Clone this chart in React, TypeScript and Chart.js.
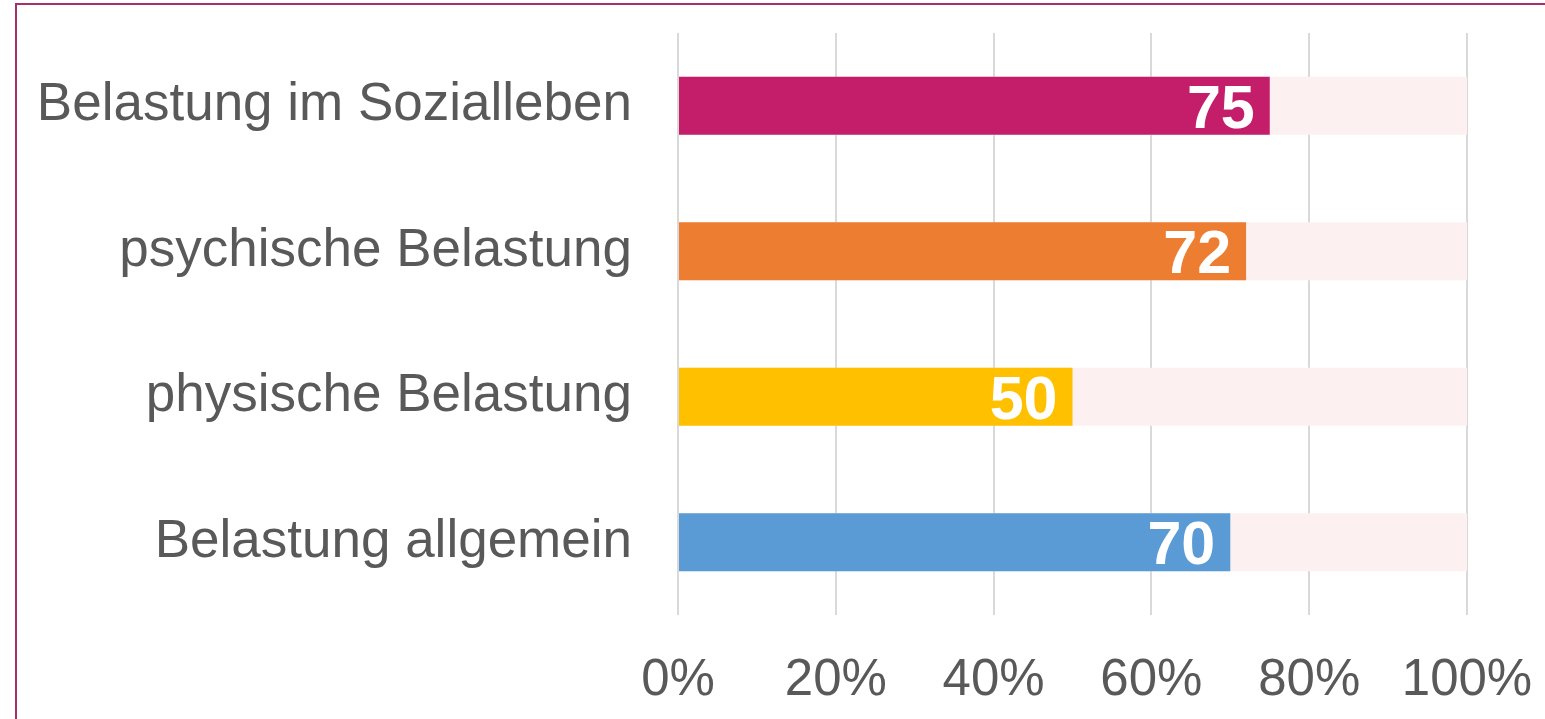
import React, { useEffect, useRef } from "react";
import { Chart, registerables } from "chart.js";

Chart.register(...registerables);

const categories = [
  "Belastung im Sozialleben",
  "psychische Belastung",
  "physische Belastung",
  "Belastung allgemein",
];
const values = [75, 72, 50, 70];
const totals = [100, 100, 100, 100];
const barColors = ["#C41E6A", "#ED7D31", "#FFC000", "#5B9BD5"];
const xTicks = [0, 20, 40, 60, 80, 100];

const valueLabelPlugin = {
  id: "valueLabels",
  afterDatasetsDraw(chart: any) {
    const ctx = chart.ctx;
    const meta = chart.getDatasetMeta(0);
    ctx.save();
    ctx.fillStyle = "#FFFFFF";
    const size = 61;
    ctx.font = `bold ${size}px "Liberation Sans", Arial, sans-serif`;
    ctx.textAlign = "right";
    ctx.textBaseline = "alphabetic";
    meta.data.forEach((bar: any, i: number) => {
      ctx.fillText(String(values[i]), bar.x - 15, bar.y + (size * 0.716) / 2);
    });
    ctx.restore();
  },
};

export default function App() {
  const ref = useRef<HTMLCanvasElement>(null);
  useEffect(() => {
    if (!ref.current) return;
    const chart = new Chart(ref.current, {
      type: "bar",
      data: {
        labels: categories,
        datasets: [
          {
            data: values,
            backgroundColor: barColors,
            barPercentage: 0.4,
            categoryPercentage: 1,
            grouped: false,
            order: 1,
          },
          {
            data: totals,
            backgroundColor: "#FDF0F0",
            barPercentage: 0.4,
            categoryPercentage: 1,
            grouped: false,
            order: 2,
          },
        ],
      },
      options: {
        indexAxis: "y",
        responsive: false,
        animation: false,
        layout: { padding: { top: 33, right: 78, left: 0, bottom: 0 } },
        plugins: { legend: { display: false }, tooltip: { enabled: false } },
        scales: {
          x: {
            min: 0,
            max: 100,
            afterBuildTicks: (scale: any) => {
              scale.ticks = xTicks.map((v) => ({ value: v }));
            },
            afterFit: (scale: any) => {
              scale.paddingLeft = 0;
              scale.paddingRight = 0;
              scale.height = 104;
            },
            grid: { color: "#D9D9D9", lineWidth: 2, drawTicks: false },
            border: { display: false },
            ticks: {
              padding: 35,
              color: "#595959",
              font: { family: "'Liberation Sans', Arial, sans-serif", size: 51 },
              callback: (v: any) => v + "%",
              maxRotation: 0,
            },
          },
          y: {
            grid: { display: false, drawTicks: false },
            border: { display: false },
            afterFit: (scale: any) => {
              scale.width = 678;
              scale.paddingTop = 0;
              scale.paddingBottom = 0;
            },
            ticks: {
              padding: 46,
              color: "#595959",
              font: { family: "'Liberation Sans', Arial, sans-serif", size: 53 },
            },
          },
        },
      },
      plugins: [valueLabelPlugin],
    });
    return () => chart.destroy();
  }, []);
  return (
    <div style={{ position: "fixed", left: 0, top: 0, width: 1545, height: 719, background: "#fff", overflow: "hidden" }}>
      <div
        style={{
          position: "absolute",
          left: 15,
          top: 3,
          width: 1600,
          height: 800,
          border: "2px solid #A8306A",
          boxSizing: "border-box",
        }}
      />
      <canvas ref={ref} width={1545} height={719} style={{ position: "absolute", left: 0, top: 0 }} />
    </div>
  );
}
